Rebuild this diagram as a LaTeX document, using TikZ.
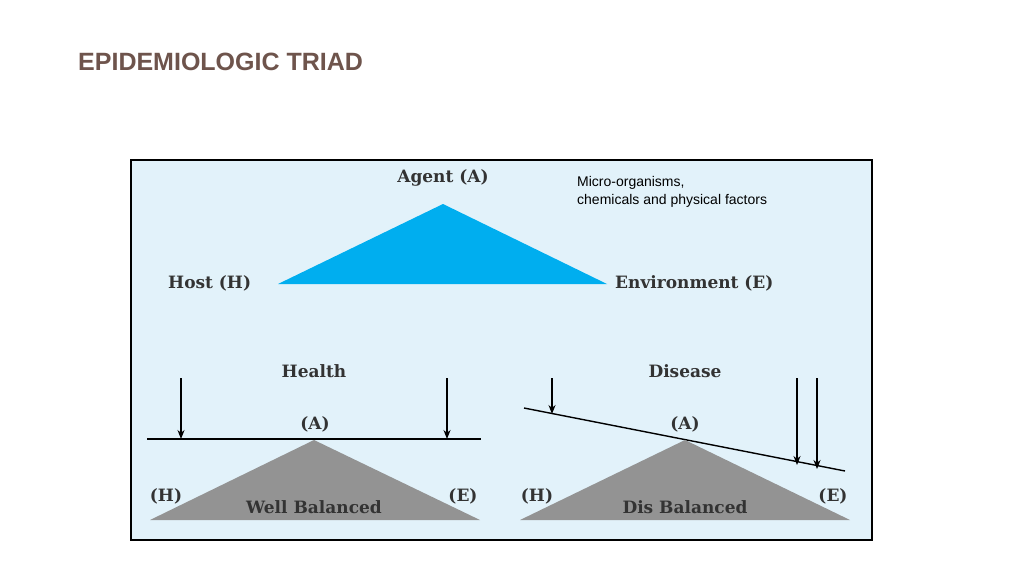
\documentclass[tikz,border=0pt]{standalone}
\usepackage{fontspec}
\setmainfont{DejaVu Serif}
\newfontfamily\sansf{Liberation Sans}
\usetikzlibrary{arrows.meta}
\definecolor{titlec}{RGB}{110,84,76}
\definecolor{boxc}{RGB}{226,242,250}
\definecolor{triblue}{RGB}{0,174,239}
\begin{document}
\begin{tikzpicture}[x=1pt,y=-1pt,
  lbl/.style={font=\fontsize{17}{20}\selectfont\bfseries, text=black!80, inner sep=0},
  arr/.style={-{Stealth[length=9pt,width=7pt]}, line width=1.4pt}]
\useasboundingbox (0,0) rectangle (1024,578);
\fill[white] (0,0) rectangle (1024,578);
\node[anchor=west, text=titlec, font=\sansf\fontsize{25}{28}\selectfont\bfseries, inner sep=0] (title) at (78,62) {EPIDEMIOLOGIC TRIAD};
\draw[fill=boxc, line width=1.5pt] (131,160) rectangle (872,540);
\fill[triblue] (443,204) -- (278,284) -- (607,284) -- cycle;
\node[lbl] (agent) at (443,178) {Agent (A)};
\node[lbl, anchor=west] (host) at (168,283) {Host (H)};
\node[lbl, anchor=west] (env) at (615,283) {Environment (E)};
\node[anchor=west, align=left, font=\sansf\fontsize{14}{18}\selectfont, inner sep=0] (micro) at (577,192) {Micro-organisms,\\chemicals and physical factors};
\node[lbl] (health) at (314,371) {Health};
\node[lbl] (disease) at (685,371) {Disease};
% left balance
\coordinate (l1) at (147,439); \coordinate (l2) at (481,439);
\draw[line width=1.4pt] (l1) -- (l2);
\coordinate (a1s) at (181,378); \coordinate (a1e) at (181,439);
\coordinate (a2s) at (447,378); \coordinate (a2e) at (447,439);
\draw[arr] (a1s) -- (a1e); \draw[arr] (a2s) -- (a2e);
\fill[gray!85] (314,440) -- (150,520) -- (480,520) -- cycle;
\node[lbl] (la) at (315,424) {(A)};
\node[lbl] (lh) at (166,496) {(H)};
\node[lbl] (le) at (463,496) {(E)};
\node[lbl] (wb) at (314,507) {Well Balanced};
% right balance
\coordinate (r1) at (524,408); \coordinate (r2) at (845,471);
\draw[line width=1.4pt] (r1) -- (r2);
\coordinate (b1s) at (552,378); \coordinate (b1e) at (552,414);
\coordinate (b2s) at (797,378); \coordinate (b2e) at (797,465);
\coordinate (b3s) at (817,378); \coordinate (b3e) at (817,469);
\draw[arr] (b1s) -- (b1e); \draw[arr] (b2s) -- (b2e); \draw[arr] (b3s) -- (b3e);
\fill[gray!85] (685,440) -- (520,520) -- (850,520) -- cycle;
\node[lbl] (ra) at (685,424) {(A)};
\node[lbl] (rh) at (537,496) {(H)};
\node[lbl] (re) at (833,496) {(E)};
\node[lbl] (db) at (685,507) {Dis Balanced};
\end{tikzpicture}
\end{document}
